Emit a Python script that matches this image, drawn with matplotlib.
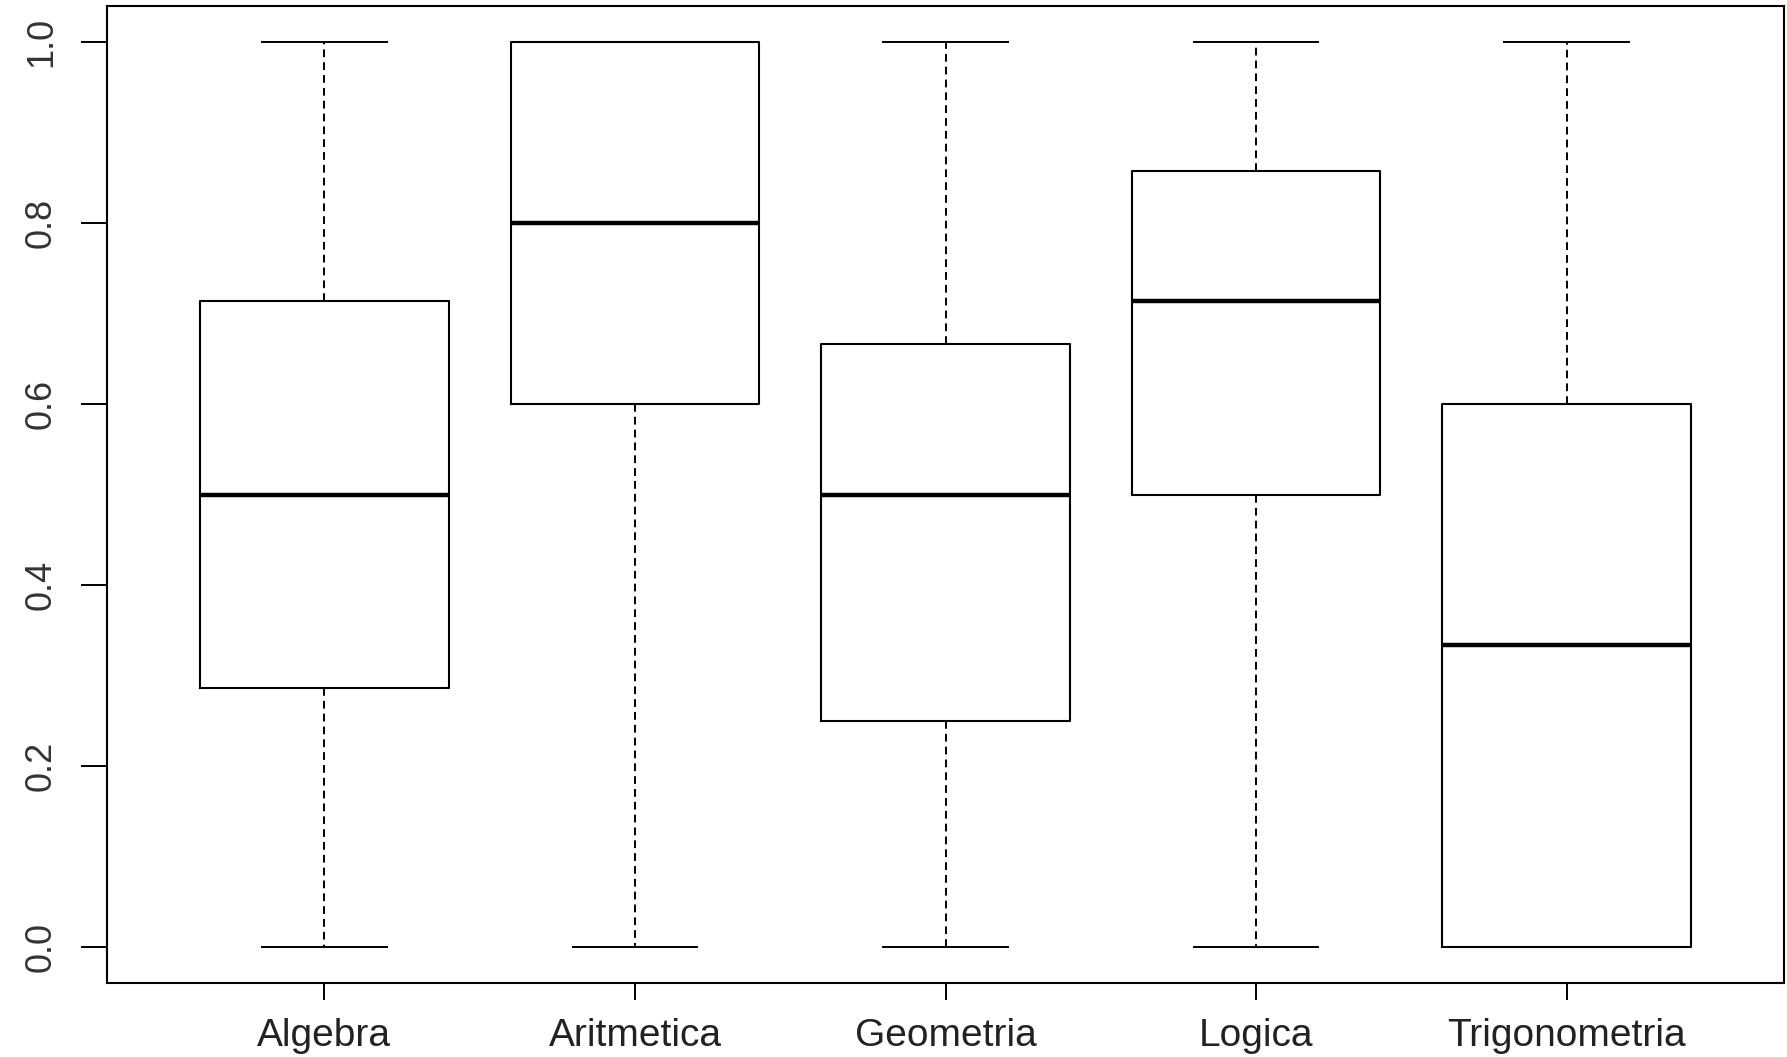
import matplotlib
matplotlib.use("Agg")
import matplotlib.pyplot as plt

OUTPUT_FILE = "out.png"

categories = ["Algebra", "Aritmetica", "Geometria", "Logica", "Trigonometria"]
whisker_low = [0.0, 0.0, 0.0, 0.0, 0.0]
q1 = [2 / 7, 0.6, 0.25, 0.5, 0.0]
median = [0.5, 0.8, 0.5, 5 / 7, 1 / 3]
q3 = [5 / 7, 1.0, 2 / 3, 6 / 7, 0.6]
whisker_high = [1.0, 1.0, 1.0, 1.0, 1.0]
y_ticks = [0.0, 0.2, 0.4, 0.6, 0.8, 1.0]

plt.rcParams['font.family'] = ['Liberation Sans', 'DejaVu Sans']

stats = []
for i, name in enumerate(categories):
    stats.append({
        "label": name,
        "whislo": whisker_low[i],
        "q1": q1[i],
        "med": median[i],
        "q3": q3[i],
        "whishi": whisker_high[i],
        "fliers": [],
    })

fig = plt.figure(figsize=(17.87, 10.57), dpi=100)
ax = fig.add_axes([0.0599, 0.0700, 0.9384, 0.9243])

positions = list(range(1, len(categories) + 1))
ax.bxp(
    stats,
    positions=positions,
    widths=0.8,
    showfliers=False,
    boxprops=dict(color="black", linewidth=1.5),
    medianprops=dict(color="black", linewidth=3.2, solid_capstyle="butt"),
    whiskerprops=dict(color="black", linewidth=1.4, linestyle=(0, (4, 2.6))),
    capprops=dict(color="black", linewidth=1.4),
    capwidths=0.4,
)

ax.set_xlim(0.3, 5.7)
ax.set_ylim(-0.04, 1.04)
ax.set_yticks(y_ticks)
ax.set_yticklabels([f"{v:.1f}" for v in y_ticks], rotation=90, va="center")
ax.set_xticks(positions)
ax.set_xticklabels(categories)

for side in ax.spines.values():
    side.set_linewidth(1.5)
    side.set_color("black")

ax.tick_params(axis="y", length=18.5, width=1.4, pad=16, labelsize=26, colors="black")
ax.tick_params(axis="x", length=12, width=1.4, pad=13, labelsize=28, colors="black")
for lab in ax.get_yticklabels():
    lab.set_color("#333333")
for lab in ax.get_xticklabels():
    lab.set_color("#222222")

fig.savefig(OUTPUT_FILE, dpi=100)
print(f"Saved {OUTPUT_FILE}")
